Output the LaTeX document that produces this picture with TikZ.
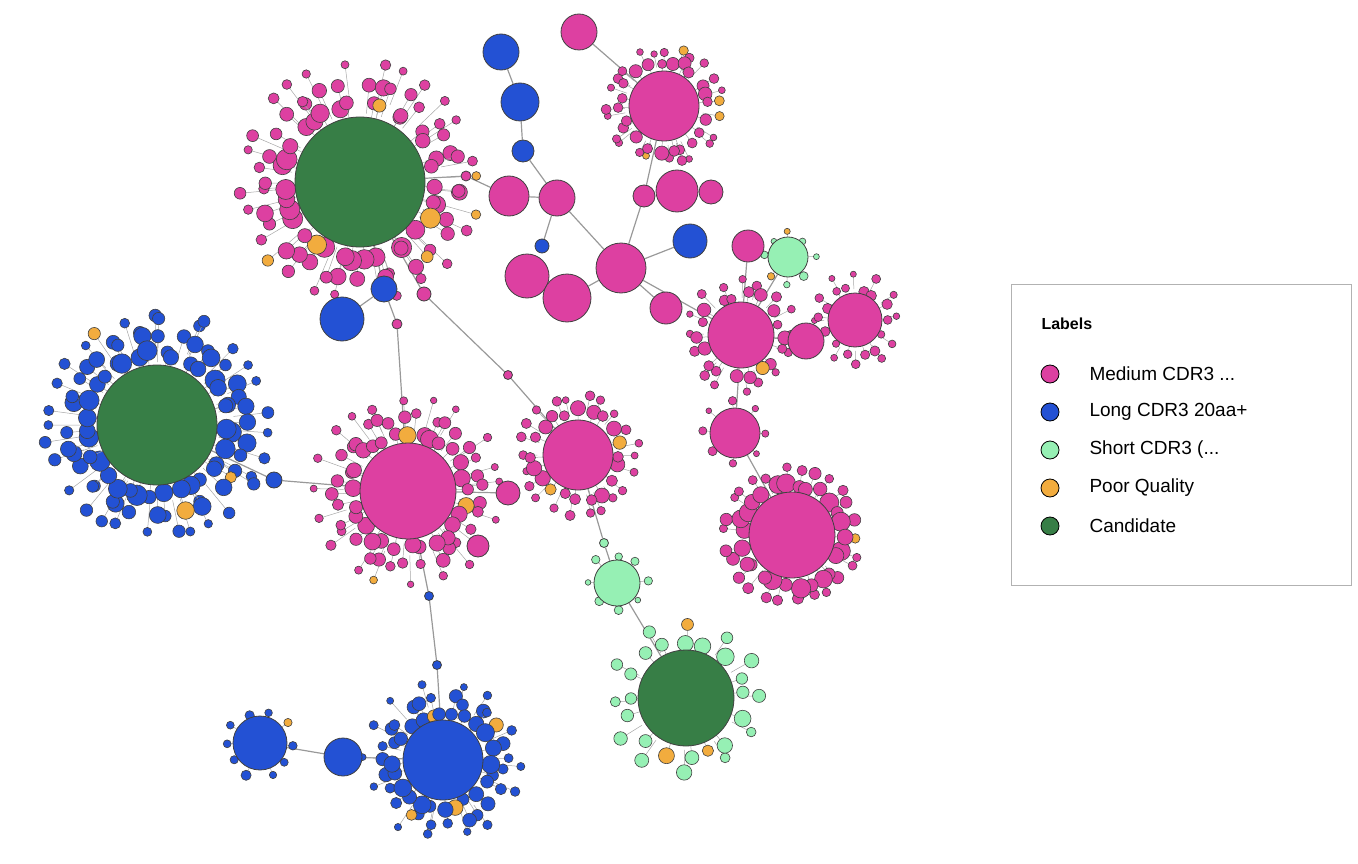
\documentclass[tikz,border=0pt]{standalone}
\usepackage{fontspec}
\setmainfont{Liberation Sans}
\usetikzlibrary{calc,backgrounds}
\definecolor{medpink}{RGB}{221,64,161}
\definecolor{longblue}{RGB}{35,81,212}
\definecolor{shortgreen}{RGB}{150,240,180}
\definecolor{poororange}{RGB}{242,172,62}
\definecolor{candgreen}{RGB}{55,126,70}
\tikzstyle{bubble}=[circle,draw=black!75,line width=0.8pt,inner sep=0pt]
\tikzstyle{satellite}=[draw=black!75,line width=0.6pt]
\tikzstyle{link}=[draw=black!40,line width=1.2pt]
\tikzstyle{legtext}=[anchor=west,font=\fontsize{19}{23}\selectfont]
\newcommand\satring[6]{%
  \foreach \i in {1,...,#4}{%
    \pgfmathsetmacro\ang{\i*360/#4+rand*6}%
    \pgfmathsetmacro\dd{#3+rand*4}%
    \pgfmathsetmacro\ss{#5*(0.8+0.5*rnd)}%
    \pgfmathtruncatemacro\po{rnd<0.05 ? 1 : 0}%
    \ifnum\po=1 \def\sc{poororange}\else\def\sc{#6}\fi
    \draw[black!35,line width=0.5pt] ($(#1,#2)+(\ang:#3*0.7)$) -- ($(#1,#2)+(\ang:\dd)$);
    \draw[satellite,fill=\sc] ($(#1,#2)+(\ang:\dd)$) circle[radius=\ss pt];
  }}
\begin{document}
\begin{tikzpicture}[x=1pt,y=-1pt]
    \useasboundingbox (0,0) rectangle (1358,864);
    \pgfmathsetseed{4242}
    % satellite rings
    \satring{360}{182}{118}{26}{5}{medpink}
    \satring{360}{182}{98}{36}{6.5}{medpink}
    \satring{360}{182}{77}{34}{8}{medpink}
    \satring{157}{425}{110}{30}{5}{longblue}
    \satring{157}{425}{90}{38}{7}{longblue}
    \satring{157}{425}{71}{34}{8}{longblue}
    \satring{408}{491}{92}{20}{4}{medpink}
    \satring{408}{491}{74}{32}{5.5}{medpink}
    \satring{408}{491}{58}{28}{7}{medpink}
    \satring{578}{455}{58}{22}{4}{medpink}
    \satring{578}{455}{44}{20}{6}{medpink}
    \satring{664}{106}{56}{24}{4}{medpink}
    \satring{664}{106}{44}{22}{5.5}{medpink}
    \satring{741}{335}{53}{16}{4}{medpink}
    \satring{741}{335}{41}{18}{5.5}{medpink}
    \satring{792}{535}{65}{26}{5}{medpink}
    \satring{792}{535}{51}{26}{7.5}{medpink}
    \satring{686}{698}{74}{12}{6}{shortgreen}
    \satring{686}{698}{58}{16}{7}{shortgreen}
    \satring{443}{760}{78}{14}{4}{longblue}
    \satring{443}{760}{62}{26}{5.5}{longblue}
    \satring{443}{760}{48}{24}{7}{longblue}
    \satring{260}{743}{33}{10}{4}{longblue}
    \satring{617}{583}{29}{8}{3.5}{shortgreen}
    \satring{855}{320}{44}{12}{3.5}{medpink}
    \satring{855}{320}{33}{14}{4.5}{medpink}
    \satring{735}{433}{32}{8}{3.5}{medpink}
    \satring{788}{257}{25}{8}{3.5}{shortgreen}
    % main clusters
    \node[bubble,fill=candgreen,minimum size=130pt] (candA) at (360,182) {};
    \node[bubble,fill=candgreen,minimum size=120pt] (candB) at (157,425) {};
    \node[bubble,fill=candgreen,minimum size=96pt] (candH) at (686,698) {};
    \node[bubble,fill=medpink,minimum size=96pt] (medC) at (408,491) {};
    \node[bubble,fill=medpink,minimum size=70pt] (medD) at (578,455) {};
    \node[bubble,fill=medpink,minimum size=70pt] (medE) at (664,106) {};
    \node[bubble,fill=medpink,minimum size=66pt] (medF) at (741,335) {};
    \node[bubble,fill=medpink,minimum size=86pt] (medG) at (792,535) {};
    \node[bubble,fill=medpink,minimum size=54pt] (medM) at (855,320) {};
    \node[bubble,fill=medpink,minimum size=36pt] (medN) at (806,341) {};
    \node[bubble,fill=medpink,minimum size=50pt] (medO) at (735,433) {};
    \node[bubble,fill=medpink,minimum size=32pt] (medP) at (748,246) {};
    \node[bubble,fill=shortgreen,minimum size=40pt] (shortQ) at (788,257) {};
    \node[bubble,fill=shortgreen,minimum size=46pt] (shortL) at (617,583) {};
    \node[bubble,fill=longblue,minimum size=80pt] (longI) at (443,760) {};
    \node[bubble,fill=longblue,minimum size=54pt] (longJ) at (260,743) {};
    \node[bubble,fill=longblue,minimum size=38pt] (longK) at (343,757) {};
    % middle chain
    \node[bubble,fill=medpink,minimum size=40pt] (m1) at (509,196) {};
    \node[bubble,fill=medpink,minimum size=36pt] (m2) at (557,198) {};
    \node[bubble,fill=medpink,minimum size=44pt] (m3) at (527,276) {};
    \node[bubble,fill=medpink,minimum size=48pt] (m4) at (567,298) {};
    \node[bubble,fill=medpink,minimum size=50pt] (m5) at (621,268) {};
    \node[bubble,fill=medpink,minimum size=42pt] (m6) at (677,191) {};
    \node[bubble,fill=medpink,minimum size=24pt] (m7) at (711,192) {};
    \node[bubble,fill=medpink,minimum size=22pt] (m8) at (644,196) {};
    \node[bubble,fill=medpink,minimum size=32pt] (m9) at (666,308) {};
    \node[bubble,fill=medpink,minimum size=36pt] (m10) at (579,32) {};
    \node[bubble,fill=medpink,minimum size=24pt] (m11) at (508,493) {};
    \node[bubble,fill=medpink,minimum size=22pt] (m12) at (478,546) {};
    \node[bubble,fill=longblue,minimum size=36pt] (b1) at (501,52) {};
    \node[bubble,fill=longblue,minimum size=38pt] (b2) at (520,102) {};
    \node[bubble,fill=longblue,minimum size=22pt] (b3) at (523,151) {};
    \node[bubble,fill=longblue,minimum size=44pt] (b4) at (342,319) {};
    \node[bubble,fill=longblue,minimum size=26pt] (b5) at (384,289) {};
    \node[bubble,fill=longblue,minimum size=34pt] (b6) at (690,241) {};
    \node[bubble,fill=longblue,minimum size=14pt] (b7) at (542,246) {};
    \node[bubble,fill=longblue,minimum size=16pt] (b8) at (274,480) {};
    \node[bubble,fill=medpink,minimum size=14pt] (s1) at (424,294) {};
    \node[bubble,fill=medpink,minimum size=10pt] (s2) at (397,324) {};
    \node[bubble,fill=medpink,minimum size=9pt] (s3) at (508,375) {};
    \node[bubble,fill=longblue,minimum size=9pt] (s4) at (429,596) {};
    \node[bubble,fill=longblue,minimum size=9pt] (s5) at (437,665) {};
    \node[bubble,fill=shortgreen,minimum size=9pt] (s6) at (604,543) {};
    \node[bubble,fill=medpink,minimum size=10pt] (s7) at (466,176) {};
    \begin{scope}[on background layer]
        \draw[link] (candA) -- (b5) -- (s2) -- (medC);
        \draw[link] (candA) -- (s1) -- (s3) -- (medD);
        \draw[link] (medC) -- (s4) -- (s5) -- (longI);
        \draw[link] (longI) -- (longK) -- (longJ);
        \draw[link] (candB) -- (b8) -- (medC);
        \draw[link] (medD) -- (s6) -- (shortL) -- (candH);
        \draw[link] (candA) -- (s7) -- (m1) -- (m2) -- (m5);
        \draw[link] (m3) -- (m4) -- (m5);
        \draw[link] (m10) -- (medE) -- (m8) -- (m5);
        \draw[link] (m6) -- (m7);
        \draw[link] (m5) -- (medF) -- (medN) -- (medM);
        \draw[link] (medF) -- (medO) -- (medG);
        \draw[link] (medF) -- (shortQ);
        \draw[link] (medP) -- (medF);
        \draw[link] (m5) -- (m9);
        \draw[link] (m5) -- (b6);
        \draw[link] (b1) -- (b2) -- (b3) -- (m2);
        \draw[link] (b4) -- (b5);
        \draw[link] (medC) -- (m11);
        \draw[link] (b7) -- (m2);
    \end{scope}
    % legend
    \draw[black!30,fill=white,line width=1pt] (1011,284) rectangle (1351,585);
    \node[anchor=west,font=\fontsize{16}{20}\selectfont\bfseries] (legtitle) at (1038,324) {Labels};
    \node[bubble,fill=medpink,minimum size=18pt,draw=black] (legdot1) at (1050,374) {};
    \node[legtext] (legtext1) at (1086,374) {Medium CDR3 ...};
    \node[bubble,fill=longblue,minimum size=18pt,draw=black] (legdot2) at (1050,412) {};
    \node[legtext] (legtext2) at (1086,412) {Long CDR3 20aa+};
    \node[bubble,fill=shortgreen,minimum size=18pt,draw=black] (legdot3) at (1050,450) {};
    \node[legtext] (legtext3) at (1086,450) {Short CDR3 (...};
    \node[bubble,fill=poororange,minimum size=18pt,draw=black] (legdot4) at (1050,488) {};
    \node[legtext] (legtext4) at (1086,488) {Poor Quality};
    \node[bubble,fill=candgreen,minimum size=18pt,draw=black] (legdot5) at (1050,526) {};
    \node[legtext] (legtext5) at (1086,526) {Candidate};
\end{tikzpicture}
\end{document}
